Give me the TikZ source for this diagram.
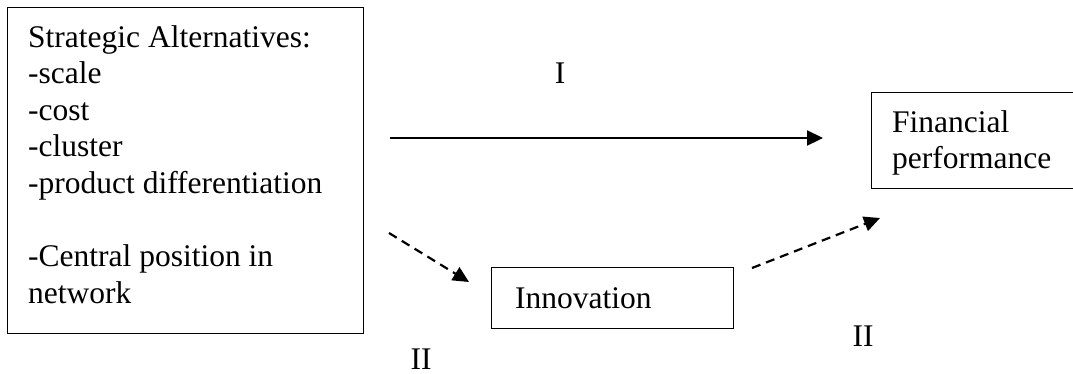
\documentclass[tikz,border=0pt]{standalone}
\usepackage{fontspec}
\setmainfont{Liberation Serif}
\usetikzlibrary{arrows.meta}
\begin{document}
\begin{tikzpicture}[x=1pt,y=-1pt,
  box/.style={draw,line width=1.4pt,inner sep=0pt,anchor=north west},
  txt/.style={inner sep=0pt,anchor=base west,font=\fontsize{31.5}{36.6}\selectfont},
  lbl/.style={inner sep=0pt,anchor=base,text depth=0pt,font=\fontsize{31.5}{36.6}\selectfont},
  solidarrow/.style={line width=2.2pt,-{Triangle[length=16pt,width=15pt]}},
  dasharrow/.style={line width=2.2pt,dash pattern=on 9pt off 6pt,-{Triangle[length=16pt,width=15pt]}}]
\useasboundingbox (0,0) rectangle (1073,373);
\clip (0,0) rectangle (1073,373);
% boxes
\node[box,minimum width=356pt,minimum height=326pt] (strat) at (7,7) {};
\node[box,minimum width=242pt,minimum height=61pt] (innov) at (491,267) {};
\node[box,minimum width=206pt,minimum height=96pt] (fin) at (871,92) {};
% texts
\node[txt] (strattext) at (28,47) {\parbox[t]{330pt}{\raggedright
Strategic Alternatives:\\
-scale\\
-cost\\
-cluster\\
-product differentiation\\[36.6pt]
-Central position in\\
network}};
\node[txt] (innovtext) at (515,308) {Innovation};
\node[txt] (fintext) at (892,132) {\parbox[t]{170pt}{\raggedright Financial\\[-0.6pt]performance}};
% labels
\node[lbl] (lI) at (560,83) {I};
\node[lbl] (lIIa) at (421,369) {II};
\node[lbl] (lIIb) at (863,346) {II};
% connector end points
\coordinate (a1) at (390,138);
\coordinate (a2) at (823,138);
\coordinate (b1) at (389,233);
\coordinate (b2) at (469,282);
\coordinate (c1) at (752,268);
\coordinate (c2) at (880,218);
\draw[solidarrow] (a1) -- (a2);
\draw[dasharrow] (b1) -- (b2);
\draw[dasharrow] (c1) -- (c2);
\end{tikzpicture}
\end{document}
